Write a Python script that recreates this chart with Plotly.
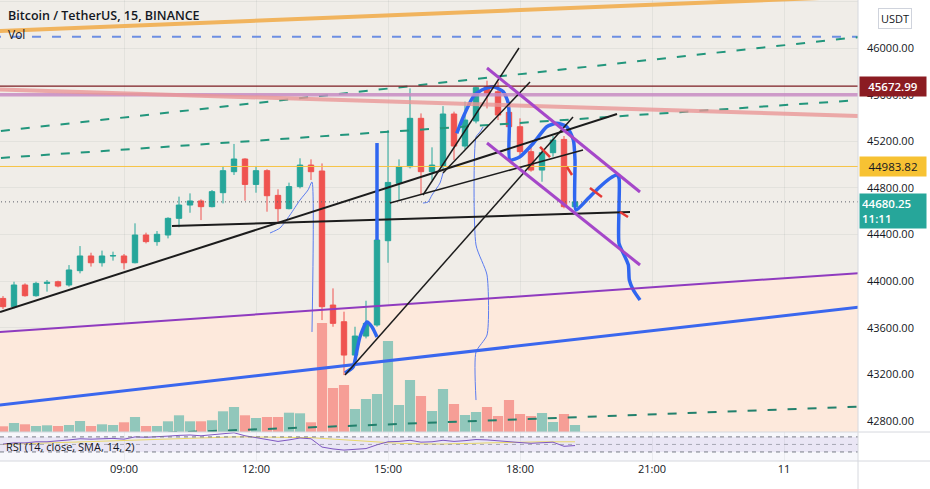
import pandas as pd
import plotly.graph_objects as go

# ---------------- data ----------------
T0 = pd.Timestamp("2024-01-10 06:15")   # first 15-minute candle
BAR_MINUTES = 15

OPEN = [43852, 43781, 43967, 43875, 43981, 43995, 43967, 44090, 44216, 44158,
        44216, 44216, 44158, 44396, 44339, 44396, 44539, 44653, 44688, 44639,
        44759, 44939, 45048, 44830, 44948, 44736, 44622, 44811, 44996, 44945,
        43795, 43652, 43366, 43529, 43624, 44347, 44839, 44982, 45397, 44939,
        44988, 45434, 45159, 45374, 45668, 45625, 45448, 45325, 45111, 44953,
        45102, 45216, 44639]
HIGH = [43872, 43995, 43981, 43995, 44010, 44004, 44138, 44301, 44244, 44262,
        44253, 44233, 44496, 44416, 44430, 44548, 44725, 44753, 44702, 44782,
        44988, 45177, 45054, 44988, 44960, 44788, 44845, 45054, 45045, 45010,
        43938, 43738, 43609, 43832, 44381, 45296, 45045, 45654, 45439, 45148,
        45502, 45454, 45540, 45668, 45720, 45711, 45468, 45397, 45168, 45125,
        45245, 45245, 44690]
LOW = [43761, 43767, 43867, 43867, 43910, 43947, 43953, 44067, 44125, 44125,
       44176, 44101, 44153, 44324, 44304, 44367, 44462, 44587, 44524, 44633,
       44667, 44911, 44690, 44759, 44596, 44490, 44616, 44796, 44868, 43666,
       43609, 43194, 43309, 43509, 43609, 44158, 44696, 44967, 44739, 44867,
       44953, 45039, 45130, 45354, 45482, 45382, 45296, 45082, 44939, 44853,
       45068, 44625, 44625]
CLOSE = [43781, 43967, 43875, 43981, 43990, 43958, 44096, 44216, 44158, 44216,
         44219, 44158, 44396, 44339, 44402, 44539, 44653, 44688, 44639, 44768,
         44948, 45048, 44830, 44948, 44733, 44622, 44811, 44996, 44939, 43781,
         43638, 43366, 43529, 43638, 44353, 44847, 44982, 45397, 44939, 44996,
         45434, 45159, 45382, 45660, 45611, 45425, 45325, 45111, 44953, 45102,
         45211, 44639, 44680.25]
VOLUME = [114, 180, 154, 120, 134, 120, 140, 220, 120, 154,
          140, 194, 300, 120, 120, 214, 334, 214, 214, 234,
          414, 500, 334, 280, 300, 300, 386, 374, 194, 2180,
          880, 940, 460, 660, 760, 1820, 540, 1040, 720, 420,
          860, 560, 340, 400, 500, 320, 640, 360, 320, 380,
          200, 360, 140]
RSI = [51, 54, 54, 57, 57, 59, 62, 65, 64, 65,
       66, 64, 70, 69, 70, 72, 74, 75, 73, 76,
       78, 81, 73, 68, 62, 58, 62, 67, 65, 43,
       38, 35, 37, 39, 49, 57, 58, 61, 56, 57,
       61, 58, 60, 63, 62, 59, 57, 55, 53, 55,
       56, 45, 47]
RSI_SMA = [50, 51, 51, 52, 53, 54, 55, 56, 57, 58,
           59, 60, 61, 62, 63, 64, 65, 66, 67, 68,
           69, 70, 70, 70, 70, 69, 69, 69, 68, 66,
           64, 62, 60, 58, 56, 54, 53, 52, 51, 51,
           51, 52, 52, 53, 54, 55, 56, 56, 57, 57,
           57, 57, 57]

TIME_TICKS = ["2024-01-10 09:00", "2024-01-10 12:00", "2024-01-10 15:00",
              "2024-01-10 18:00", "2024-01-10 21:00", "2024-01-11 00:00"]
TIME_LABELS = ["09:00", "12:00", "15:00", "18:00", "21:00", "11"]
PRICE_TICKS = [42800, 43200, 43600, 44000, 44400, 44800, 45200, 45600, 46000, 46400]

# drawings, as (bar index, price)
ORANGE_LINE = [(-1, 46143), (80, 46451)]
BLUE_DASH_LINE = [(-1, 46097), (80, 46097)]
GREEN_DASH_UPPER = [(-0.27, 45288), (77.9, 46095)]
GREEN_DASH_LOWER = [(-0.27, 45057), (77.9, 45554)]
GREEN_DASH_VOLUME = [(15, 42700), (78, 42925)]
SALMON_LINE = [(-0.27, 45644), (77.9, 45417)]
PURPLE_LINE = [(-0.27, 43564), (77.9, 44070)]
BLUE_LINE = [(-0.27, 42938), (77.9, 43778)]
PINK_LEVEL = 45600
DARK_RED_LEVEL = 45672.99
YELLOW_LEVEL = 44983.82
LAST_PRICE = 44680.25
BLACK_THICK = [
    [(-0.27, 43735), (55.82, 45434)],
    [(15.36, 44473), (57.0, 44593)],
]
BLACK_THIN = [
    [(31.09, 43195), (51.82, 45408)],
    [(38.18, 44739), (46.91, 46000)],
    [(40.0, 44928), (47.91, 45708)],
    [(35.18, 44670), (52.73, 45125)],
]
CHANNEL_UPPER = [(44.0, 45829), (57.91, 44765)]
CHANNEL_LOWER = [(44.0, 45185), (57.91, 44139)]
BLUE_HOOK = [(31.09, 43212), (31.82, 43263), (32.18, 43409), (32.45, 43521),
             (33.09, 43650), (33.55, 43607), (34.0, 43521)]
BLUE_STICK = [(34.0, 45185), (34.0, 44353)]
BLUE_PATH = [(41.25, 45268), (41.85, 45411), (42.75, 45582), (43.52, 45640),
             (44.57, 45668), (45.48, 45625), (45.94, 45526), (46.03, 45325),
             (46.09, 45039), (47.0, 45068), (48.21, 45183), (49.43, 45325),
             (50.34, 45354), (51.25, 45325), (51.85, 45211), (52.0, 45039),
             (52.09, 44610), (53.06, 44696), (54.12, 44797), (55.18, 44882),
             (55.79, 44911), (56.0, 44882), (56.0, 44639), (56.0, 44325),
             (56.39, 44239), (56.85, 44139), (56.94, 44010), (57.3, 43924),
             (57.91, 43838)]
THIN_BLUE_1 = [(24.27, 44413), (25.18, 44456), (26.09, 44568), (27.0, 44696),
               (27.73, 44782), (28.09, 44851), (28.09, 43564)]
THIN_BLUE_2 = [(43.64, 45322), (43.36, 45280), (43.0, 45237), (43.0, 44310),
               (44.0, 44053), (44.0, 43538), (43.0, 43392), (43.0, 42980)]
THIN_BLUE_3 = [(38.18, 44670), (38.64, 44679), (39.0, 44739), (39.73, 44842),
               (40.0, 44928)]
RED_TICKS = [
    [(48.82, 45151), (49.73, 45065)],
    [(51.27, 44979), (51.73, 44911)],
    [(53.36, 44799), (54.45, 44722)],
    [(56.09, 44593), (56.82, 44550)],
]

# ---------------- helpers ----------------
def bt(b):
    return T0 + pd.Timedelta(minutes=BAR_MINUTES * b)

def ext(points, b_from, b_to):
    (b0, p0), (b1, p1) = points
    k = (p1 - p0) / (b1 - b0)
    return [(b_from, p0 + k * (b_from - b0)), (b_to, p0 + k * (b_to - b0))]

N = len(CLOSE)
TIMES = [bt(i) for i in range(N)]
X_LEFT, X_RIGHT = -3 / 11, 855 / 11     # visible bar span
PRICE_RANGE = [42706, 46412]
RSI_RANGE = [6, 83]
RSI_DOM = 29 / 461

GREEN = "#26a69a"
RED = "#ef5350"
TXT = "#131722"
FONT = "Open Sans"

fig = go.Figure()

# peach zone under the purple channel line (base price axis, drawn lowest)
pl = ext(PURPLE_LINE, -2, 82)
fig.add_trace(go.Scatter(
    x=[bt(pl[0][0]), bt(pl[1][0]), bt(pl[1][0]), bt(pl[0][0])],
    y=[pl[0][1], pl[1][1], 42000, 42000],
    fill="toself", fillcolor="#fde9dc", line=dict(width=0),
    mode="lines", hoverinfo="skip", yaxis="y"))

# volume (overlay axis above the peach zone)
fig.add_trace(go.Bar(
    x=TIMES, y=VOLUME, yaxis="y2",
    marker=dict(color=["rgba(38,166,154,0.5)" if c >= o else "rgba(239,83,80,0.5)"
                       for o, c in zip(OPEN, CLOSE)], line=dict(width=0)),
    hoverinfo="skip"))

# candles (overlay price axis above volume)
fig.add_trace(go.Candlestick(
    x=TIMES, open=OPEN, high=HIGH, low=LOW, close=CLOSE,
    increasing=dict(line=dict(color=GREEN, width=1), fillcolor=GREEN),
    decreasing=dict(line=dict(color=RED, width=1), fillcolor=RED),
    whiskerwidth=0, yaxis="y4", hoverinfo="skip"))

# RSI
fig.add_trace(go.Scatter(x=TIMES, y=RSI_SMA, yaxis="y3", mode="lines",
                         line=dict(color="#e9d96a", width=1), hoverinfo="skip"))
fig.add_trace(go.Scatter(x=TIMES, y=RSI, yaxis="y3", mode="lines",
                         line=dict(color="#7e57c2", width=1), hoverinfo="skip"))

shapes = []

def seg(points, color, width, dash="solid", extend=None, layer="above"):
    pts = ext(points, *extend) if extend else points
    shapes.append(dict(type="line", xref="x", yref="y",
                       x0=bt(pts[0][0]), y0=pts[0][1], x1=bt(pts[1][0]), y1=pts[1][1],
                       line=dict(color=color, width=width, dash=dash), layer=layer))

def hline(level, color, width, dash="solid"):
    seg([(-2, level), (82, level)], color, width, dash)

# RSI pane background and band
shapes.append(dict(type="rect", xref="paper", yref="paper", x0=0, x1=1, y0=0, y1=RSI_DOM,
                   fillcolor="#f7f7fb", line=dict(width=0), layer="below"))
shapes.append(dict(type="rect", xref="paper", yref="y3", x0=0, x1=1, y0=30, y1=70,
                   fillcolor="rgba(126,87,194,0.10)", line=dict(width=0), layer="below"))
for lvl, col in [(70, "#787b86"), (50, "rgba(120,123,134,0.6)"), (30, "#787b86")]:
    shapes.append(dict(type="line", xref="paper", yref="y3", x0=0, x1=1, y0=lvl, y1=lvl,
                       line=dict(color=col, width=1, dash="4px,4px")))

# drawings
seg(ORANGE_LINE, "#f1b45e", 4)
seg(BLUE_DASH_LINE, "#6d8fe2", 2, "9px,11px")
seg(GREEN_DASH_UPPER, "#22967c", 2, "9px,11px", extend=(-2, 82))
seg(GREEN_DASH_LOWER, "#22967c", 2, "9px,11px", extend=(-2, 82))
seg(GREEN_DASH_VOLUME, "#22806c", 2, "9px,11px")
hline(DARK_RED_LEVEL, "#7c1d22", 1.3)
hline(PINK_LEVEL, "rgba(200,140,195,0.85)", 3.5)
seg(SALMON_LINE, "rgba(234,150,150,0.8)", 4, extend=(-2, 82))
hline(YELLOW_LEVEL, "#f6c344", 1)
hline(LAST_PRICE, "#5d606b", 1, "1px,3px")
seg(PURPLE_LINE, "#8f3bbf", 2, extend=(-2, 82))
seg(BLUE_LINE, "#3a67ee", 3, extend=(-2, 82))
for ln in BLACK_THICK:
    seg(ln, "#1c1c1c", 2)
for ln in BLACK_THIN:
    seg(ln, "#1c1c1c", 1.5)
seg(CHANNEL_UPPER, "#a547c9", 3)
seg(CHANNEL_LOWER, "#a547c9", 3)
seg(BLUE_STICK, "#2f66f0", 3.5)
for ln in RED_TICKS:
    seg(ln, "#e53935", 2.5)

def path(points, color, width):
    fig.add_trace(go.Scatter(x=[bt(b) for b, _ in points], y=[p for _, p in points],
                             mode="lines", yaxis="y4", hoverinfo="skip",
                             line=dict(color=color, width=width, shape="spline", smoothing=0.6)))

path(THIN_BLUE_1, "#5b7cf0", 1)
path(THIN_BLUE_2, "#5b7cf0", 1)
path(THIN_BLUE_3, "#5b7cf0", 1)
path(BLUE_HOOK, "#2f66f0", 3.5)
path(BLUE_PATH, "#2f66f0", 3.5)

# pane separators and right border
for yy in [RSI_DOM, 0]:
    shapes.append(dict(type="line", xref="paper", yref="paper", x0=0, x1=930 / 858,
                       y0=yy, y1=yy, line=dict(color="#d6d8de", width=1)))
shapes.append(dict(type="line", xref="paper", yref="paper", x0=1, x1=1,
                   y0=-28 / 461, y1=1, line=dict(color="#d6d8de", width=1)))

annotations = [
    dict(text="Bitcoin / TetherUS, 15, BINANCE", xref="paper", yref="paper", x=0, y=1,
         xanchor="left", yanchor="top", xshift=6, yshift=-5, showarrow=False,
         font=dict(family=FONT, size=12.5, color=TXT, weight=600)),
    dict(text="Vol", xref="paper", yref="paper", x=0, y=1, xanchor="left", yanchor="top",
         xshift=6, yshift=-24, showarrow=False, font=dict(family=FONT, size=12, color=TXT)),
    dict(text="RSI (14, close, SMA, 14, 2)", xref="paper", yref="y3", x=0, y=44,
         xanchor="left", yanchor="middle", xshift=4, showarrow=False,
         font=dict(family=FONT, size=11, color=TXT)),
    dict(text="USDT", xref="paper", yref="paper", x=1, y=1, xanchor="left", yanchor="top",
         xshift=20, yshift=-8, showarrow=False, bgcolor="white", bordercolor="#cfd3dc",
         borderwidth=1, borderpad=2, font=dict(family=FONT, size=11, color=TXT)),
    dict(text=f"{DARK_RED_LEVEL:.2f}", xref="paper", yref="y", x=1, y=DARK_RED_LEVEL,
         xanchor="left", yanchor="middle", xshift=1, showarrow=False, bgcolor="#8b1c22",
         width=62, borderpad=2, font=dict(family=FONT, size=11.5, color="white", weight=600)),
    dict(text=f"{YELLOW_LEVEL:.2f}", xref="paper", yref="y", x=1, y=YELLOW_LEVEL,
         xanchor="left", yanchor="middle", xshift=1, showarrow=False, bgcolor="#f7c233",
         width=62, borderpad=2, font=dict(family=FONT, size=11.5, color=TXT)),
    dict(text=f"{LAST_PRICE:.2f}<br>11:11", xref="paper", yref="y", x=1, y=LAST_PRICE,
         xanchor="left", yanchor="top", xshift=1, yshift=9, showarrow=False, bgcolor=GREEN,
         width=62, borderpad=2, align="left",
         font=dict(family=FONT, size=11.5, color="white", weight=600)),
]

grid = "rgba(42,46,57,0.06)"
fig.update_layout(
    width=930, height=489, autosize=False,
    margin=dict(l=0, r=72, t=0, b=28),
    paper_bgcolor="white", plot_bgcolor="#f0ede8",
    showlegend=False, bargap=0.08,
    shapes=shapes, annotations=annotations,
    xaxis=dict(type="date", range=[bt(X_LEFT), bt(X_RIGHT)], anchor="y3",
               tickvals=TIME_TICKS, ticktext=TIME_LABELS, showgrid=True, gridcolor=grid,
               zeroline=False, showline=False, ticks="", rangeslider=dict(visible=False),
               tickfont=dict(family=FONT, size=11, color=TXT)),
    yaxis=dict(domain=[RSI_DOM, 1], range=PRICE_RANGE, side="right", anchor="x",
               tickvals=PRICE_TICKS, tickformat=".2f", showgrid=True, gridcolor=grid,
               zeroline=False, ticks="", ticklabelstandoff=8,
               tickfont=dict(family=FONT, size=11, color=TXT)),
    yaxis2=dict(overlaying="y", range=[0, 8640], visible=False),
    yaxis4=dict(overlaying="y", range=PRICE_RANGE, visible=False),
    yaxis3=dict(domain=[0, RSI_DOM], range=RSI_RANGE, side="right", anchor="x",
                showticklabels=False, showgrid=False, zeroline=False, ticks=""),
)

fig.write_html("out.html")
